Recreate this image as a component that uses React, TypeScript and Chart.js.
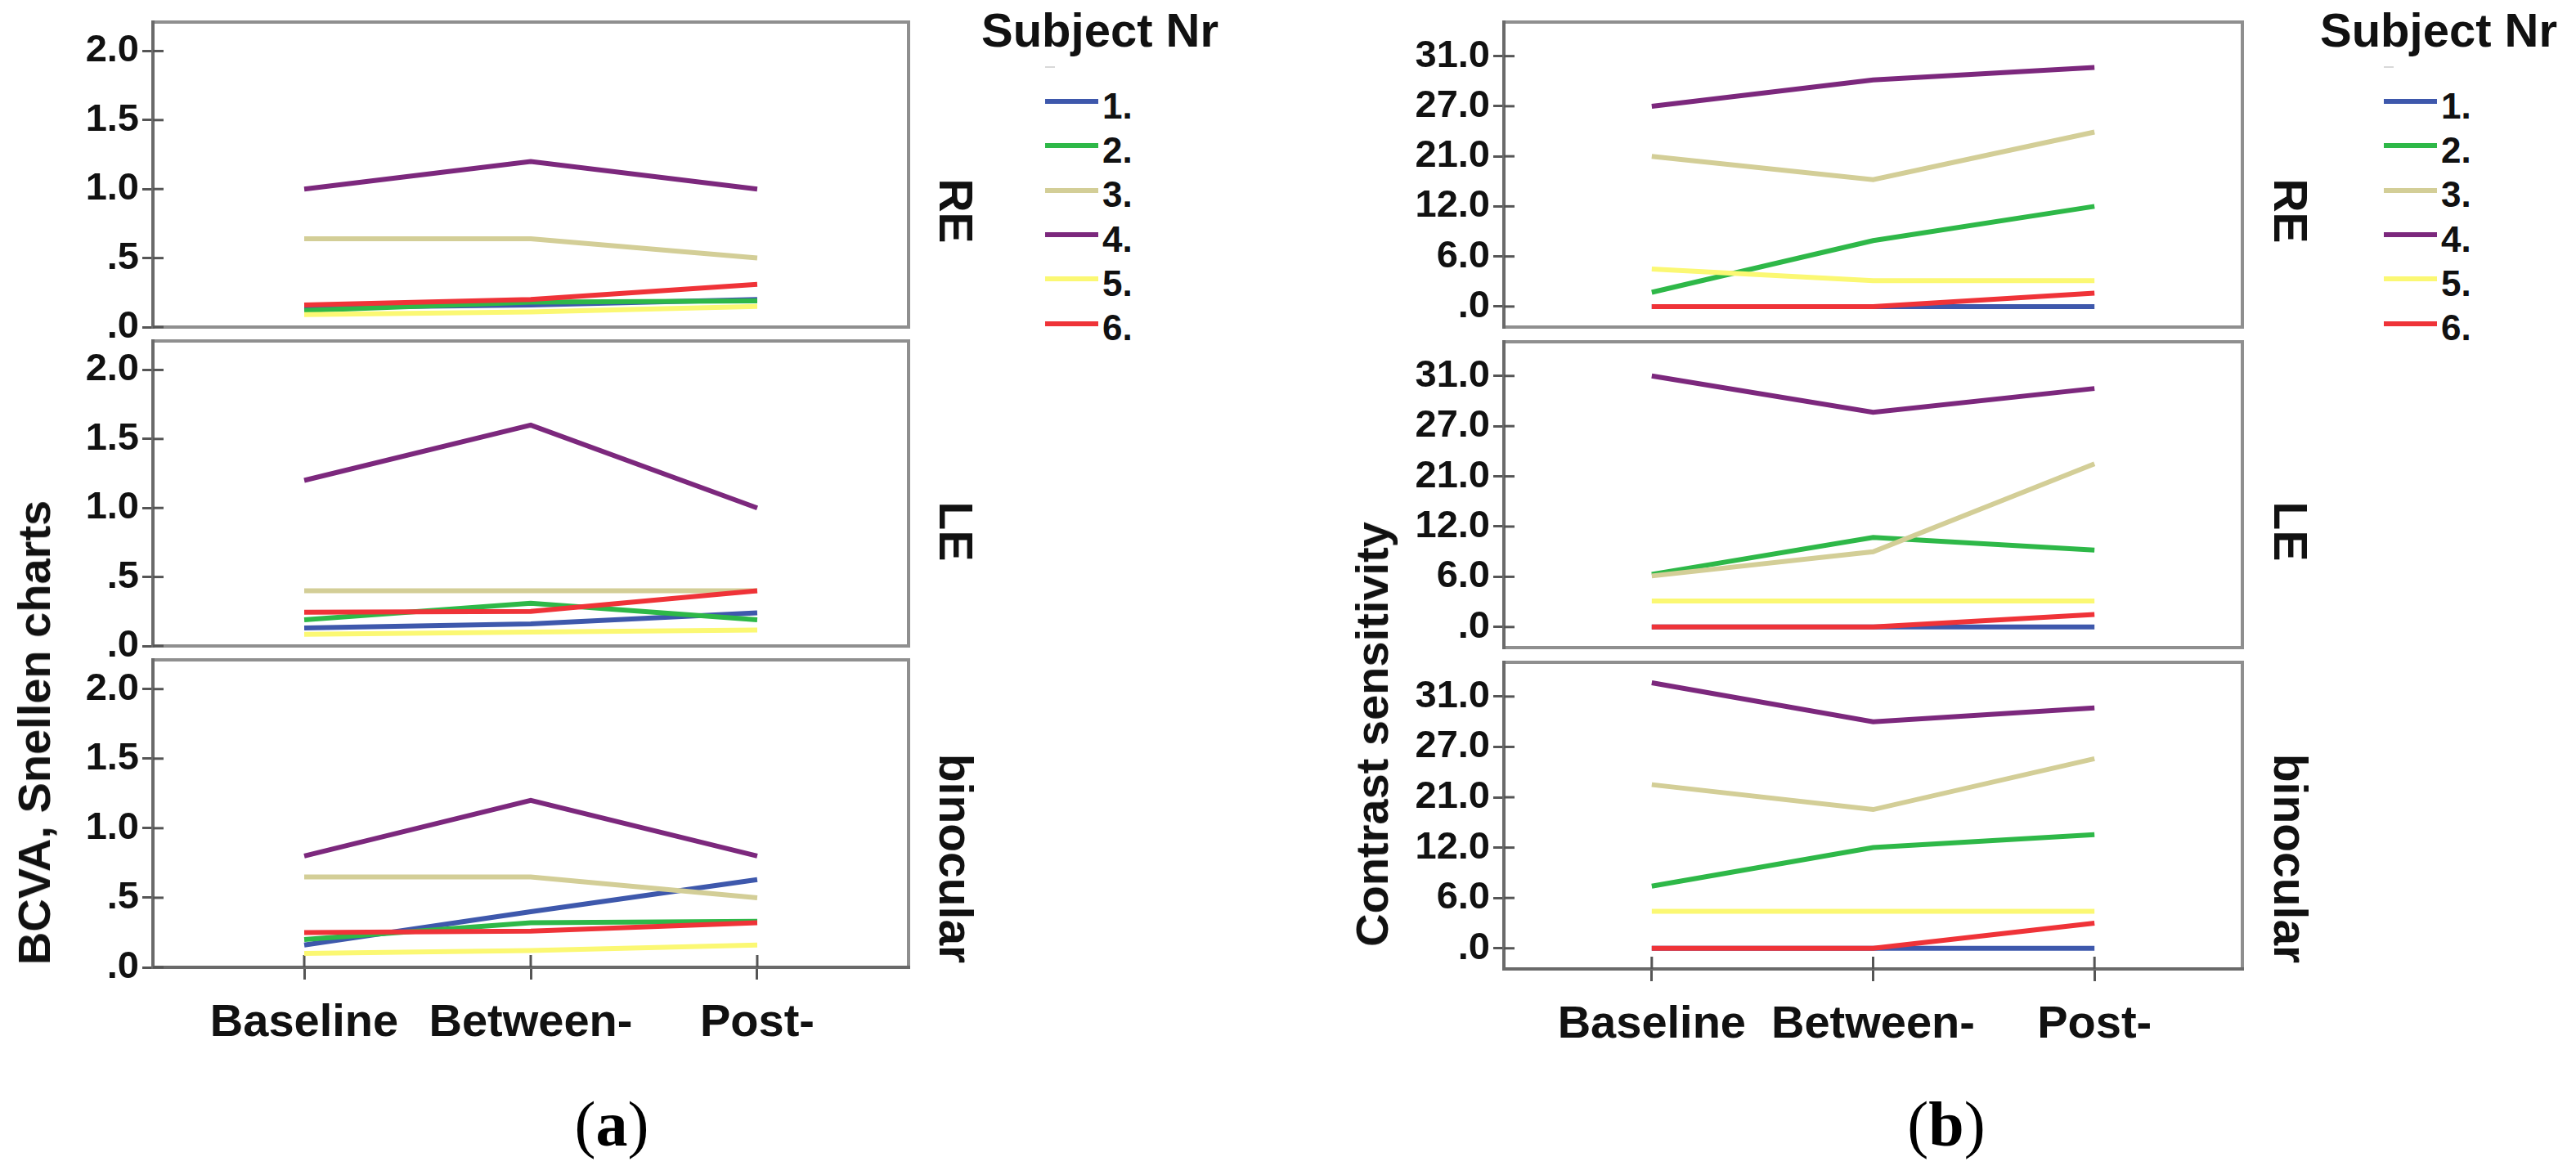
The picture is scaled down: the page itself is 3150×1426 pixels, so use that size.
import React, { useEffect, useRef } from "react";
import { Chart, registerables } from "chart.js";

Chart.register(...registerables);

// ---------------- data ----------------
const timepoints = ["Baseline", "Between-", "Post-"];
const subjects = ["1.", "2.", "3.", "4.", "5.", "6."];
const subjectColors = ["#3E58AC", "#2EB848", "#D3CE97", "#7C287D", "#FBF873", "#EF3338"];
const facetNames = ["RE", "LE", "binocular"];

const bcvaTicks = [0, 0.5, 1, 1.5, 2];
const bcvaTickLabels = [".0", ".5", "1.0", "1.5", "2.0"];
const csTicks = [0, 6, 12, 21, 27, 31];
const csTickLabels = [".0", "6.0", "12.0", "21.0", "27.0", "31.0"];

// BCVA (Snellen) per subject 1..6, values at Baseline / Between- / Post-
const bcvaRE = [
  [0.14, 0.16, 0.2],
  [0.12, 0.18, 0.19],
  [0.64, 0.64, 0.5],
  [1.0, 1.2, 1.0],
  [0.09, 0.11, 0.15],
  [0.16, 0.2, 0.31],
];
const bcvaLE = [
  [0.13, 0.16, 0.24],
  [0.19, 0.31, 0.19],
  [0.4, 0.4, 0.4],
  [1.2, 1.6, 1.0],
  [0.085, 0.1, 0.115],
  [0.245, 0.25, 0.4],
];
const bcvaBino = [
  [0.16, 0.4, 0.63],
  [0.2, 0.32, 0.33],
  [0.65, 0.65, 0.5],
  [0.8, 1.2, 0.8],
  [0.1, 0.12, 0.16],
  [0.25, 0.26, 0.32],
];

// Contrast sensitivity per subject 1..6
const csRE = [
  [0, 0, 0],
  [1.7, 7.9, 12],
  [21, 16.8, 23.9],
  [27, 29.1, 30.1],
  [4.5, 3.1, 3.1],
  [0, 0, 1.6],
];
const csLE = [
  [0, 0, 0],
  [6.3, 10.7, 9.2],
  [6.1, 9.0, 22.5],
  [31, 28.1, 30],
  [3.1, 3.1, 3.1],
  [0, 0, 1.5],
];
const csBino = [
  [0, 0, 0],
  [7.4, 12, 14.3],
  [22.5, 18.8, 25.6],
  [32.1, 29, 30.1],
  [4.4, 4.4, 4.4],
  [0, 0, 3],
];

// ---------------- helpers ----------------
const SANS = "'Liberation Sans', Arial, Helvetica, sans-serif";
const NARROW = "'Liberation Sans Narrow', 'Arial Narrow', " + SANS;
const SERIF = "'Liberation Serif', 'Times New Roman', Times, serif";

// contrast sensitivity axis is ordinal: equal spacing between the tick levels
function csToLevel(v: number): number {
  const t = csTicks;
  for (let i = 0; i < t.length - 1; i++) {
    if (v <= t[i + 1] || i === t.length - 2) return i + (v - t[i]) / (t[i + 1] - t[i]);
  }
  return 0;
}
const identity = (v: number) => v;

type FacetProps = {
  values: number[][];
  toY: (v: number) => number;
  yMin: number;
  yMax: number;
  tickPos: number[];
  tickLabels: string[];
  canvasLeft: number;
  boxLeft: number;
  boxRight: number;
  boxTop: number;
  boxBottom: number;
  isBottom: boolean;
};

const PAD_T = 6;
const PAD_R = 6;
const XAXIS_H = 110;
const BELOW = 34;

function Facet(p: FacetProps) {
  const ref = useRef<HTMLCanvasElement | null>(null);
  const boxH = p.boxBottom - p.boxTop;
  const width = p.boxRight + PAD_R - p.canvasLeft;
  const height = PAD_T + boxH + (p.isBottom ? XAXIS_H + 6 : BELOW);

  useEffect(() => {
    const frame = {
      id: "frame",
      beforeDatasetsDraw(chart: any) {
        const { ctx, chartArea } = chart;
        const { left, top, right, bottom } = chartArea;
        ctx.save();
        ctx.strokeStyle = "#8f8f8f";
        ctx.lineWidth = 4;
        ctx.strokeRect(left, top, right - left, bottom - top);
        ctx.strokeStyle = "#6a6a6a";
        ctx.beginPath();
        ctx.moveTo(left, top - 2);
        ctx.lineTo(left, bottom + 2);
        ctx.stroke();
        if (p.isBottom) {
          ctx.beginPath();
          ctx.moveTo(left - 2, bottom);
          ctx.lineTo(right + 2, bottom);
          ctx.stroke();
        }
        ctx.strokeStyle = "#555";
        ctx.lineWidth = 3;
        const ys = chart.scales.y;
        ys.ticks.forEach((t: any) => {
          const y = ys.getPixelForValue(t.value);
          ctx.beginPath();
          ctx.moveTo(left, y);
          ctx.lineTo(left + 13, y);
          ctx.stroke();
        });
        if (p.isBottom) {
          const xs = chart.scales.x;
          xs.ticks.forEach((t: any) => {
            const x = xs.getPixelForValue(t.value);
            ctx.beginPath();
            ctx.moveTo(x, bottom);
            ctx.lineTo(x, bottom - 15);
            ctx.stroke();
          });
        }
        ctx.restore();
      },
    };

    const chart = new Chart(ref.current as HTMLCanvasElement, {
      type: "line",
      data: {
        datasets: p.values.map((vals, i) => ({
          label: subjects[i],
          data: vals.map((v, j) => ({ x: j, y: p.toY(v) })),
          borderColor: subjectColors[i],
          backgroundColor: subjectColors[i],
          borderWidth: 6,
          pointRadius: 0,
          pointHoverRadius: 0,
          tension: 0,
          fill: false,
          borderCapStyle: "butt",
          order: subjects.length - i,
        })),
      },
      options: {
        animation: false,
        responsive: true,
        maintainAspectRatio: false,
        events: [],
        layout: {
          autoPadding: false,
          padding: { top: PAD_T, right: PAD_R, left: 0, bottom: p.isBottom ? 6 : BELOW },
        },
        plugins: {
          legend: { display: false },
          tooltip: { enabled: false },
          title: { display: false },
        },
        scales: {
          x: {
            type: "linear",
            min: -0.668,
            max: 2.668,
            display: p.isBottom,
            afterBuildTicks: (s: any) => {
              s.ticks = timepoints.map((_, i) => ({ value: i }));
            },
            afterFit: (s: any) => {
              s.height = p.isBottom ? XAXIS_H : 0;
              s.paddingLeft = 0;
              s.paddingRight = 0;
            },
            ticks: {
              autoSkip: false,
              maxRotation: 0,
              minRotation: 0,
              padding: 20,
              color: "#111",
              font: { family: SANS, size: 56, weight: "bold" },
              callback: (_v: any, i: number) => timepoints[i],
            },
            grid: {
              drawOnChartArea: false,
              drawTicks: true,
              tickLength: 15,
              tickWidth: 3,
              tickColor: "#555",
            },
            border: { display: false },
          },
          y: {
            type: "linear",
            min: p.yMin,
            max: p.yMax,
            afterBuildTicks: (s: any) => {
              s.ticks = p.tickPos.map((v) => ({ value: v }));
            },
            afterFit: (s: any) => {
              s.width = p.boxLeft - p.canvasLeft;
              s.paddingTop = 0;
              s.paddingBottom = 0;
            },
            ticks: {
              autoSkip: false,
              padding: 4,
              color: "#111",
              font: { family: NARROW, size: 47, weight: "bold" },
              callback: (_v: any, i: number) => p.tickLabels[i],
            },
            grid: {
              drawOnChartArea: false,
              drawTicks: true,
              tickLength: 13,
              tickWidth: 3,
              tickColor: "#555",
            },
            border: { display: false },
          },
        },
      } as any,
      plugins: [frame],
    });
    return () => chart.destroy();
  }, []);

  return (
    <div
      style={{
        position: "absolute",
        left: p.canvasLeft,
        top: p.boxTop - PAD_T,
        width,
        height,
      }}
    >
      <canvas ref={ref} />
    </div>
  );
}

function Legend({ x }: { x: number }) {
  const step = 54.3;
  return (
    <>
      <div
        style={{
          position: "absolute",
          left: x - 3,
          top: 57 - 0.8465 * 58,
          font: `bold 58px ${SANS}`,
          lineHeight: "58px",
          color: "#111",
          whiteSpace: "nowrap",
        }}
      >
        Subject Nr
      </div>
      <div
        style={{
          position: "absolute",
          left: x + 75,
          top: 81,
          width: 12,
          height: 2,
          background: "#d8d8d8",
        }}
      />
      {subjects.map((s, i) => (
        <React.Fragment key={s}>
          <div
            style={{
              position: "absolute",
              left: x + 75,
              top: 124 + i * step - 3,
              width: 65,
              height: 6,
              background: subjectColors[i],
            }}
          />
          <div
            style={{
              position: "absolute",
              left: x + 145,
              top: 145 + i * step - 0.8465 * 44,
              font: `bold 44px ${SANS}`,
              lineHeight: "44px",
              color: "#111",
              whiteSpace: "nowrap",
            }}
          >
            {s}
          </div>
        </React.Fragment>
      ))}
    </>
  );
}

function Rotated({ text, cx, cy, deg, size }: { text: string; cx: number; cy: number; deg: number; size: number }) {
  return (
    <div
      style={{
        position: "absolute",
        left: cx,
        top: cy,
        transform: `translate(-50%, -50%) rotate(${deg}deg)`,
        font: `bold ${size}px ${SANS}`,
        lineHeight: `${size}px`,
        color: "#111",
        whiteSpace: "nowrap",
      }}
    >
      {text}
    </div>
  );
}

const boxesA = [
  [27, 400],
  [417, 790],
  [807, 1183],
];
const boxesB = [
  [27, 400],
  [418, 792],
  [810, 1185],
];
const facetLabelY = [258, 650, 1050];

export default function App() {
  const bcvaSets = [bcvaRE, bcvaLE, bcvaBino];
  const csSets = [csRE, csLE, csBino];
  return (
    <div
      style={{
        position: "absolute",
        left: 0,
        top: 0,
        width: 3150,
        height: 1426,
        background: "#fff",
        overflow: "hidden",
      }}
    >
      {bcvaSets.map((vals, f) => (
        <Facet
          key={"a" + f}
          values={vals}
          toY={identity}
          yMin={0}
          yMax={2.21}
          tickPos={bcvaTicks}
          tickLabels={bcvaTickLabels}
          canvasLeft={0}
          boxLeft={187}
          boxRight={1111}
          boxTop={boxesA[f][0]}
          boxBottom={boxesA[f][1]}
          isBottom={f === 2}
        />
      ))}
      {csSets.map((vals, f) => (
        <Facet
          key={"b" + f}
          values={vals}
          toY={csToLevel}
          yMin={-0.41}
          yMax={5.68}
          tickPos={csTicks.map(csToLevel)}
          tickLabels={csTickLabels}
          canvasLeft={1600}
          boxLeft={1839}
          boxRight={2742}
          boxTop={boxesB[f][0]}
          boxBottom={boxesB[f][1]}
          isBottom={f === 2}
        />
      ))}

      {facetNames.map((n, f) => (
        <React.Fragment key={n}>
          <Rotated text={n} cx={1168} cy={facetLabelY[f]} deg={90} size={57} />
          <Rotated text={n} cx={2800} cy={facetLabelY[f]} deg={90} size={57} />
        </React.Fragment>
      ))}

      <Rotated text="BCVA, Snellen charts" cx={42} cy={896} deg={-90} size={56} />
      <Rotated text="Contrast sensitivity" cx={1678} cy={898} deg={-90} size={56} />

      <Legend x={1203} />
      <Legend x={2840} />

      <div
        style={{
          position: "absolute",
          left: 748,
          top: 1375,
          transform: "translate(-50%, -50%)",
          font: `78px ${SERIF}`,
          lineHeight: "78px",
          color: "#000",
          whiteSpace: "nowrap",
        }}
      >
        (<b>a</b>)
      </div>
      <div
        style={{
          position: "absolute",
          left: 2380,
          top: 1375,
          transform: "translate(-50%, -50%)",
          font: `78px ${SERIF}`,
          lineHeight: "78px",
          color: "#000",
          whiteSpace: "nowrap",
        }}
      >
        (<b>b</b>)
      </div>
    </div>
  );
}
